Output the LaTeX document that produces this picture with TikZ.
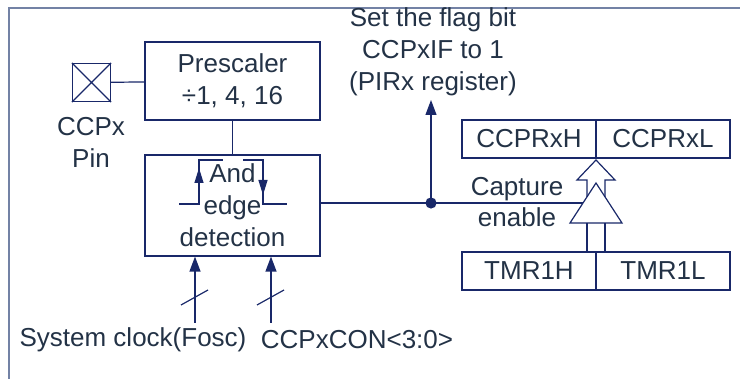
\documentclass[tikz,border=0pt]{standalone}
\usepackage{fontspec}
\setmainfont{Liberation Sans}
\usetikzlibrary{arrows.meta,positioning,calc}
\definecolor{wire}{RGB}{25,40,105}
\definecolor{ink}{RGB}{35,50,70}
\definecolor{framegray}{RGB}{115,130,165}

\begin{document}
\begin{tikzpicture}[x=0.5pt,y=-0.5pt,line width=0.6pt,color=wire,text=ink,
	font=\fontsize{13}{16}\selectfont,
	box/.style={draw,minimum width=87.5pt,align=center,inner sep=0pt},
	reg/.style={draw,minimum width=67pt,minimum height=19pt,inner sep=0pt,outer sep=0pt},
	arr/.style={-{Triangle[width=5.5pt,length=7.5pt]}},
	smallarr/.style={-{Triangle[width=4.5pt,length=7.5pt]}}]
	\useasboundingbox (0,0) rectangle (740,379);
	\draw[framegray,line width=0.8pt] (9,379) -- (9,8) -- (740,8);

	\node[draw,minimum size=19pt,inner sep=0pt] (pin) at (91.5,82.5) {};
	\draw (pin.north west) -- (pin.south east) (pin.north east) -- (pin.south west);
	\node[align=center] (pinlbl) at (91,142) {CCPx\\Pin};

	\node[box,minimum height=39pt] (pre) at (232.5,81) {Prescaler\\÷1, 4, 16};
	\node[box,minimum height=50.5pt] (det) at (232.5,205.5) {And\\edge\\detection};
	\draw (pin) to (pre);
	\draw (pre) to (det);

	% pulse inside the detector
	\draw (179,204) -- (199,204) -- (199,160) -- (223,160);
	\draw (243,160) -- (263,160) -- (263,204) -- (287,204);
	\draw[smallarr] (199,190) -- (199,168);
	\draw[smallarr] (263,175) -- (263,195);

	\coordinate (clk) at (195,323);
	\coordinate (con) at (271,323);
	\draw[arr] (clk) to (clk |- det.south);
	\draw[arr] (con) to (con |- det.south);
	\draw (181,305) -- (208,290);
	\draw (257,305) -- (284,290);
	\node (clklbl) at (133,340) {System clock(Fosc)};
	\node (conlbl) at (357,340) {CCPxCON<3:0>};

	\node[reg] (crh) at (529,139) {CCPRxH};
	\node[reg,right=0pt of crh] (crl) {CCPRxL};
	\node[reg] (tmh) at (529,271) {TMR1H};
	\node[reg,right=0pt of tmh] (tml) {TMR1L};

	% capture buffer and hollow arrow
	\coordinate (ta) at (596,183);
	\coordinate (tl) at (570,223);
	\coordinate (tr) at (622,223);
	\draw (ta) -- (tl) -- (tr) -- cycle;
	\draw (587,197) -- (587,180) -- (577,180) -- (596,160) -- (615,180) -- (605,180) -- (605,197);
	\draw (587,223) -- (587,252) (605,223) -- (605,252);

	\coordinate (dot) at (431,203);
	\draw (det.east |- dot) to (dot) to ($(tl)!0.5!(ta)$);
	\fill (dot) circle (2.8pt);
	\draw[arr] (dot) to (431,100);
	\node[align=center] (flag) at (433,52) {Set the flag bit\\CCPxIF to 1\\(PIRx register)};
	\node[align=center,font=\fontsize{13}{15.5}\selectfont] (cap) at (517,202) {Capture\\enable};
\end{tikzpicture}
\end{document}
